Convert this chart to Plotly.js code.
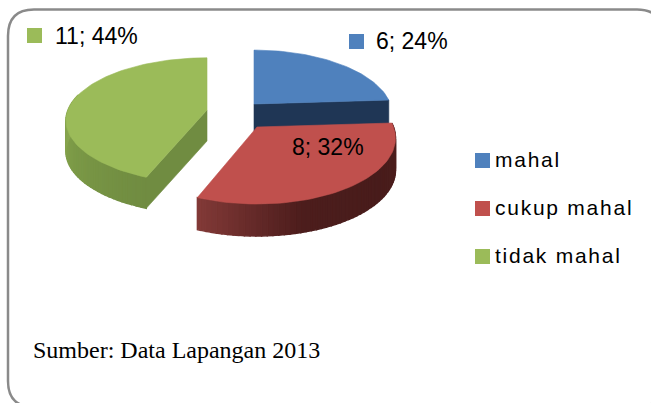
<!DOCTYPE html>
<html><head><meta charset="utf-8">
<script src="https://cdn.plot.ly/plotly-3.0.1.min.js"></script>
<style>
html,body{margin:0;padding:0;background:#fff}
#c{width:651px;height:403px}
</style></head><body><div id="c"></div>
<script>
// Data
const categories = ['mahal', 'cukup mahal', 'tidak mahal'];
const values = [6, 8, 11];
const percents = [24, 32, 44];
const topColors = ['#4f81bd', '#c0504d', '#9bbb59'];
const labelText = values.map((v, i) => v + '; ' + percents[i] + '%');
const sourceText = 'Sumber: Data Lapangan 2013';

// Projection of the tilted, exploded discs (picture pixels)
const apex = [[254, 104], [257, 127], [207, 110]];
const radiusX = [136.5, 136.5, 139];
const radiusY = [63, 64, 61];
const depth = [32, 32, 31];
const K = 0.169;
const total = values.reduce((a, b) => a + b, 0);
let acc = 0;
const spans = values.map(v => { const s = acc / total * 360; acc += v; return [s, acc / total * 360]; });

function pt(i, deg, down) {
  const a = deg * Math.PI / 180, u = Math.sin(a), v = Math.cos(a), s = 1 / (1 + K * v);
  return [apex[i][0] + radiusX[i] * u * s, apex[i][1] - radiusY[i] * v * s + (down ? depth[i] : 0)];
}
const traces = [];
function poly(pts, color, w) {
  traces.push({type: 'scatter', mode: 'lines', x: pts.map(p => p[0]).concat(pts[0][0]), y: pts.map(p => p[1]).concat(pts[0][1]),
    fill: 'toself', fillcolor: color, line: {color: color, width: w === undefined ? 0.6 : w}, hoverinfo: 'skip', showlegend: false});
}
function topFace(i) {
  const pts = [[apex[i][0], apex[i][1]]];
  for (let d = spans[i][0]; d <= spans[i][1] + 0.001; d += 2) pts.push(pt(i, d, false));
  pts.push(pt(i, spans[i][1], false));
  poly(pts, topColors[i]);
}
function mix(a, b, t) {
  const c = [0, 1, 2].map(k => Math.round(a[k] + (b[k] - a[k]) * t));
  return 'rgb(' + c.join(',') + ')';
}
function wall(i, from, to, stops) {
  const step = 2;
  for (let d = from; d < to; d += step) {
    const e = Math.min(d + step, to);
    const t = (to - d) / (to - from);
    const f = t * (stops.length - 1), j = Math.min(Math.floor(f), stops.length - 2);
    poly([pt(i, d, false), pt(i, e, false), pt(i, e, true), pt(i, d, true)], mix(stops[j], stops[j + 1], f - j), 1.4);
  }
}
function cut(i, deg, color) {
  const p = pt(i, deg, false), q = pt(i, deg, true);
  poly([[apex[i][0], apex[i][1]], p, q, [apex[i][0], apex[i][1] + depth[i]]], color);
}

// blue slice
cut(0, spans[0][1], '#1f3655');
topFace(0);
// green slice
cut(2, spans[2][0], '#708c41');
wall(2, spans[2][0], 285, [[142, 172, 82], [124, 154, 71], [112, 140, 65]]);
topFace(2);
// red slice
wall(1, spans[1][0], spans[1][1], [[132, 58, 56], [76, 29, 28], [72, 28, 27], [80, 31, 30]]);
topFace(1);

// data label keys and legend keys
const keyX = [356.5, 34.5];
const keyY = [41.5, 35.5];
traces.push({type: 'scatter', mode: 'markers', x: keyX, y: keyY, marker: {symbol: 'square', size: 15, color: [topColors[0], topColors[2]]}, hoverinfo: 'skip', showlegend: false});
const legX = [482.5, 482.5, 482.5];
const legY = [160.5, 208.5, 256.5];
traces.push({type: 'scatter', mode: 'markers', x: legX, y: legY, marker: {symbol: 'square', size: 15, color: topColors}, hoverinfo: 'skip', showlegend: false});

const sans = 'Liberation Sans, Arial, sans-serif';
function note(x, y, text, size, family) {
  traces.push({type: 'scatter', mode: 'text', x: [x], y: [y], text: [text], textposition: 'middle right',
    textfont: {family, size, color: '#000'}, hoverinfo: 'skip', showlegend: false});
}
note(376, 43, labelText[0], 23, sans);
note(292, 149, labelText[1], 23, sans);
note(55, 38, labelText[2], 23, sans);
categories.forEach((c, i) => note(495, legY[i] + 1, c, 21, sans));
note(33, 352, sourceText, 24, 'Liberation Serif, Times New Roman, serif');

const frame = 'M 34 9.5 L 637 9.5 Q 663 9.5 663 36 L 663 381 Q 663 407 637 407 L 34 407 Q 8 407 8 381 L 8 36 Q 8 9.5 34 9.5 Z';
Plotly.newPlot('c', traces, {
  width: 651, height: 403, margin: {l: 0, r: 0, t: 0, b: 0},
  paper_bgcolor: '#fff', plot_bgcolor: '#fff', showlegend: false,
  xaxis: {range: [0, 651], visible: false, fixedrange: true},
  yaxis: {range: [403, 0], visible: false, fixedrange: true},
  shapes: [{type: 'path', xref: 'x', yref: 'y', path: frame, line: {color: '#8a8a8a', width: 2.5}, layer: 'below'}]
}, {displayModeBar: false, staticPlot: true}).then(() => {
  document.querySelectorAll('.textpoint text').forEach(t => {
    if (categories.includes(t.textContent)) t.style.letterSpacing = '1.75px';
  });
});
</script></body></html>
